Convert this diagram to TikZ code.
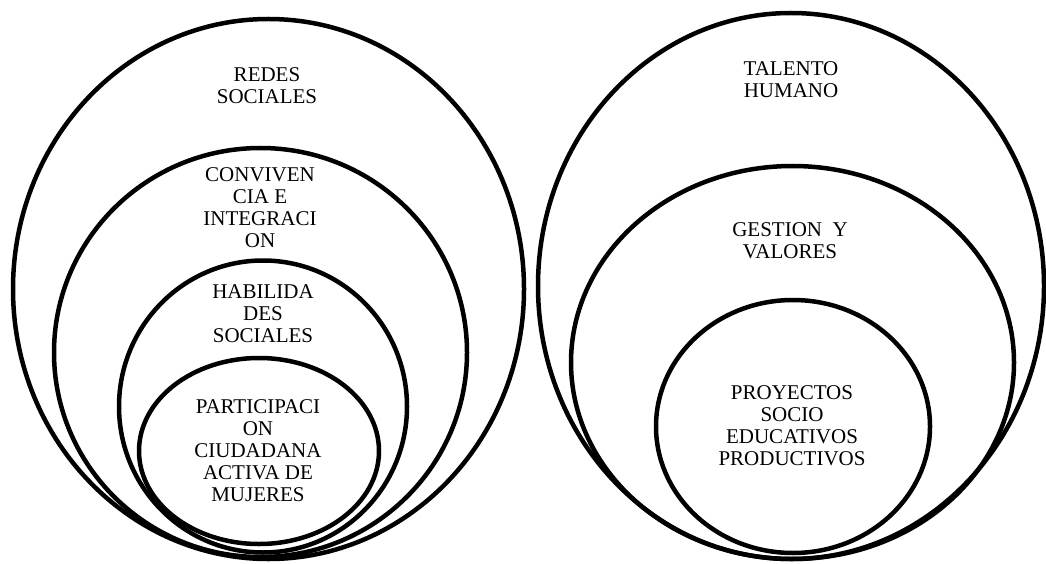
\documentclass[tikz,border=0pt]{standalone}
\usepackage{fontspec}
\setmainfont{Liberation Serif}
\usetikzlibrary{shapes.geometric}
\tikzset{
  ring/.style={ellipse, draw=black, line width=4.5pt, inner sep=0pt, outer sep=0pt},
  lbl/.style={align=center, inner sep=0pt, font=\fontsize{21}{22}\selectfont}
}
\begin{document}
\begin{tikzpicture}[x=1pt, y=-1pt]
\useasboundingbox (0,0) rectangle (1046,564);
% left group
\node[ring, minimum width=511pt, minimum height=540pt] (L1) at (268.5,289) {};
\node[ring, minimum width=413pt, minimum height=409pt] (L2) at (260.5,352.5) {};
\node[ring, minimum width=288pt, minimum height=292pt] (L3) at (263,406.5) {};
\node[ring, minimum width=240pt, minimum height=186pt] (L4) at (259,451) {};
% right group
\node[ring, minimum width=506pt, minimum height=546pt] (R1) at (791,286) {};
\node[ring, minimum width=443pt, minimum height=393pt] (R2) at (792.5,362.5) {};
\node[ring, minimum width=274pt, minimum height=253pt] (R3) at (793,426.5) {};
% labels
\node[lbl] (t1) at (267,86) {REDES\\SOCIALES};
\node[lbl] (t2) at (260,207.5) {CONVIVEN\\CIA E\\INTEGRACI\\ON};
\node[lbl] (t3) at (263,313.5) {HABILIDA\\DES\\SOCIALES};
\node[lbl] (t4) at (258,451) {PARTICIPACI\\ON\\CIUDADANA\\ACTIVA DE\\MUJERES};
\node[lbl] (t5) at (791,80) {TALENTO\\HUMANO};
\node[lbl] (t6) at (790,240.5) {GESTION\ \ Y\\VALORES};
\node[lbl] (t7) at (792,426) {PROYECTOS\\SOCIO\\EDUCATIVOS\\PRODUCTIVOS};
\end{tikzpicture}
\end{document}
